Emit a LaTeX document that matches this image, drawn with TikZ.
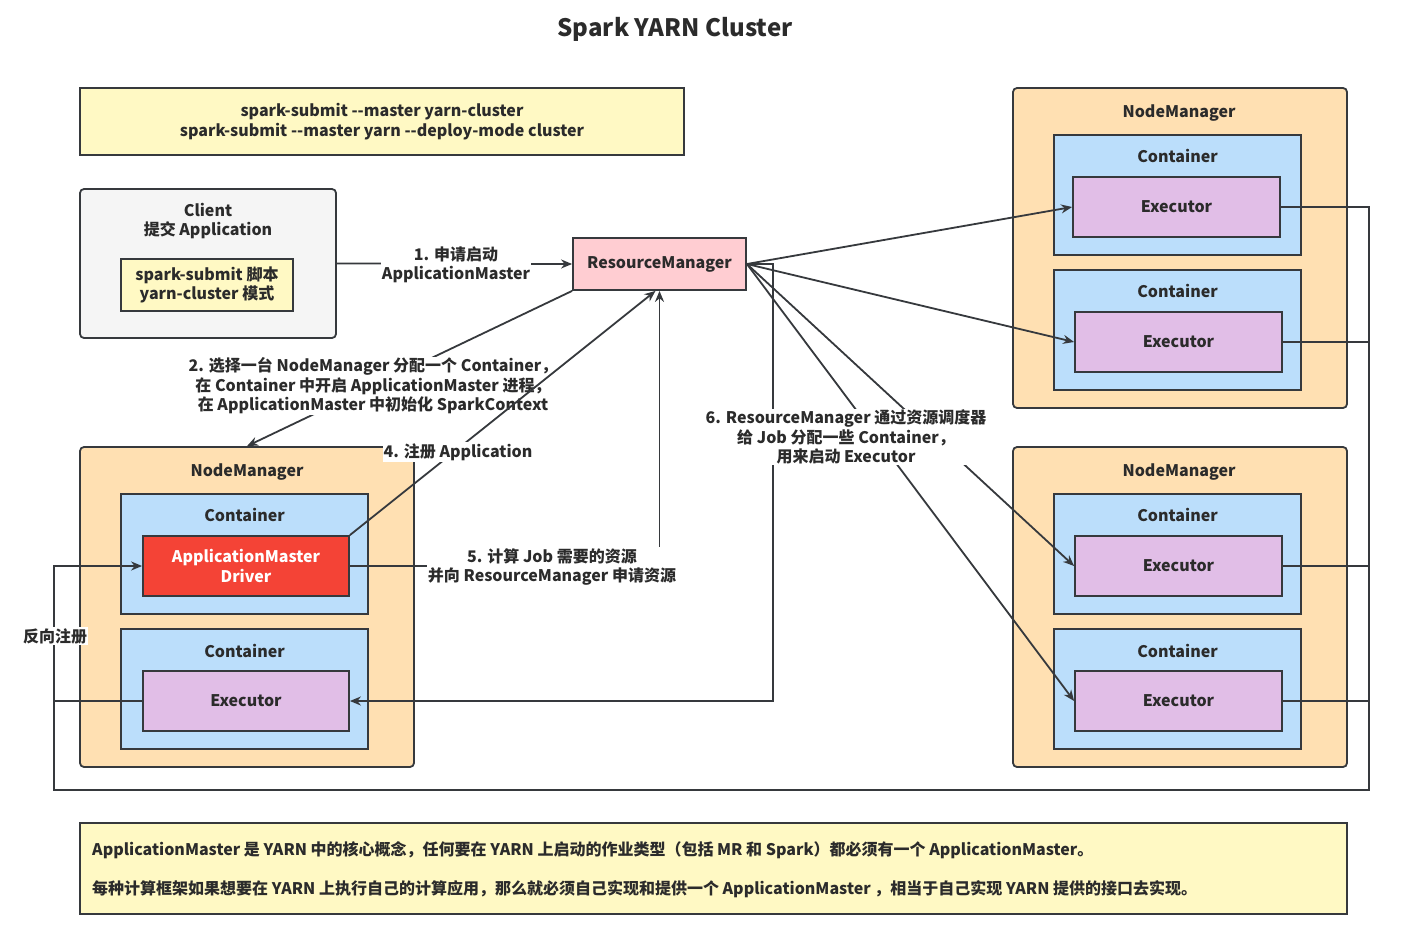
\documentclass[tikz,border=0pt]{standalone}
\usepackage{fontspec}
\setmainfont{Noto Sans CJK SC}[Ligatures=TeXOff]
\usetikzlibrary{arrows.meta}
\definecolor{edgec}{HTML}{36393D}
\definecolor{txt}{HTML}{2B2B2B}
\definecolor{yel}{HTML}{FFF9C4}
\definecolor{grayf}{HTML}{F5F5F5}
\definecolor{pinkf}{HTML}{FFCDD2}
\definecolor{nmf}{HTML}{FFE0B2}
\definecolor{ctf}{HTML}{BBDEFB}
\definecolor{exf}{HTML}{E1BEE7}
\definecolor{amf}{HTML}{F44336}
\tikzset{
  bx/.style={draw=edgec, line width=1.8pt, rectangle, inner sep=0pt, align=center},
  wh/.style 2 args={minimum width=#1, minimum height=#2},
  nmbox/.style={bx, fill=nmf, rounded corners=4pt, wh={334pt}{320pt}},
  ctbox/.style={bx, fill=ctf, wh={247pt}{120pt}},
  exbox/.style={bx, fill=exf, wh={207pt}{60pt}},
  lab/.style={fill=white, inner sep=1pt, align=center},
  arr/.style={draw=edgec, line width=1.8pt, -{Stealth[length=11pt,width=9pt]}},
  ln/.style={draw=edgec, line width=1.8pt},
}
\begin{document}
\begin{tikzpicture}[x=1pt,y=-1pt,
  every node/.style={font=\fontsize{16}{19.5}\selectfont\bfseries, text=txt, align=center}]
\useasboundingbox[fill=white] (0,0) rectangle (1412,942);

\node[font=\fontsize{24}{28}\selectfont\bfseries] (title) at (675,29) {Spark YARN Cluster};

\node[bx, fill=yel, wh={604pt}{67pt}] (cmd) at (382,121.5) {spark-submit --master yarn-cluster\\spark-submit --master yarn --deploy-mode cluster};

\node[bx, fill=grayf, rounded corners=4pt, wh={256pt}{149pt}] (client) at (208,263.5) {};
\node (clientT) at (208,221) {Client\\提交 Application};
\node[bx, fill=yel, wh={172pt}{52pt}] (script) at (207,285) {spark-submit 脚本\\yarn-cluster 模式};

\node[bx, fill=pinkf, wh={173pt}{52pt}] (rm) at (659.5,264) {ResourceManager};

% left NodeManager
\node[nmbox] (nml) at (247,607) {};
\node (nmlT) at (247,472) {NodeManager};
\node[ctbox] (cl1) at (244.5,554) {};
\node (cl1T) at (244.5,515) {Container};
\node[bx, fill=amf, wh={206pt}{60pt}, text=white] (am) at (246,566) {ApplicationMaster\\Driver};
\node[ctbox] (cl2) at (244.5,689) {};
\node (cl2T) at (244.5,651) {Container};
\node[exbox, minimum width=206pt] (exl) at (246,701) {Executor};

% right NodeManager 1
\node[nmbox] (nmr1) at (1180,248) {};
\node (nmr1T) at (1179,113) {NodeManager};
\node[ctbox] (cr1) at (1177.5,195) {};
\node (cr1T) at (1177.5,156) {Container};
\node[exbox] (ex1) at (1176.5,207) {Executor};
\node[ctbox] (cr2) at (1177.5,330) {};
\node (cr2T) at (1177.5,291) {Container};
\node[exbox] (ex2) at (1178.5,342) {Executor};

% right NodeManager 2
\node[nmbox] (nmr2) at (1180,607) {};
\node (nmr2T) at (1179,472) {NodeManager};
\node[ctbox] (cr3) at (1177.5,554) {};
\node (cr3T) at (1177.5,515) {Container};
\node[exbox] (ex3) at (1178.5,566) {Executor};
\node[ctbox] (cr4) at (1177.5,689) {};
\node (cr4T) at (1177.5,651) {Container};
\node[exbox] (ex4) at (1178.5,701) {Executor};

% note
\node[bx, fill=yel, wh={1267pt}{91pt}] (note) at (713.5,868.5) {};
\node[anchor=west, inner sep=0pt] (n1) at (92,850) {ApplicationMaster 是 YARN 中的核心概念，任何要在 YARN 上启动的作业类型（包括 MR 和 Spark）都必须有一个 ApplicationMaster。};
\node[anchor=west, inner sep=0pt] (n2) at (92,889) {每种计算框架如果想要在 YARN 上执行自己的计算应用，那么就必须自己实现和提供一个 ApplicationMaster ，相当于自己实现 YARN 提供的接口去实现。};

% bus coordinates
\coordinate (busTR) at (1369,207);
\coordinate (busBR) at (1369,790);
\coordinate (busBL) at (54,790);
\coordinate (c6) at (773,264);

% reverse registration bus
\draw[arr] (ex1.east) -- (busTR) -- (busBR) -- (busBL) |- (am.west);
\draw[ln] (ex2.east) -- (ex2.east -| busTR);
\draw[ln] (ex3.east) -- (ex3.east -| busTR);
\draw[ln] (ex4.east) -- (ex4.east -| busTR);
\draw[ln] (exl.west) -- (exl.west -| busBL);
\node[lab] (lbr) at (55,636) {反向注册};

% 1
\draw[arr] (client.east) -- (rm.west);
\node[lab] (l1) at (456,265) {1. 申请启动\\ApplicationMaster};
% 2
\draw[arr] (rm.south west) -- (nml.north);
\node[lab] (l2) at (373,386) {2. 选择一台 NodeManager 分配一个 Container，\\在 Container 中开启 ApplicationMaster 进程，\\在 ApplicationMaster 中初始化 SparkContext};
% 4
\draw[arr] (am.north east) -- ([xshift=-4pt]rm.south);
\node[lab] (l4) at (458,452) {4. 注册 Application};
% 5
\draw[arr] (am.east) -| (rm.south);
\node[lab] (l5) at (552,567) {5. 计算 Job 需要的资源\\并向 ResourceManager 申请资源};
% 6
\draw[arr] (rm.east) -- (ex1.west);
\draw[arr] (rm.east) -- (ex2.west);
\draw[arr] (rm.east) -- (ex3.west);
\draw[arr] (rm.east) -- (ex4.west);
\draw[arr] (rm.east) -- (c6) |- (exl.east);
\node[lab] (l6) at (846,437) {6. ResourceManager 通过资源调度器\\给 Job 分配一些 Container，\\用来启动 Executor};
\end{tikzpicture}
\end{document}
